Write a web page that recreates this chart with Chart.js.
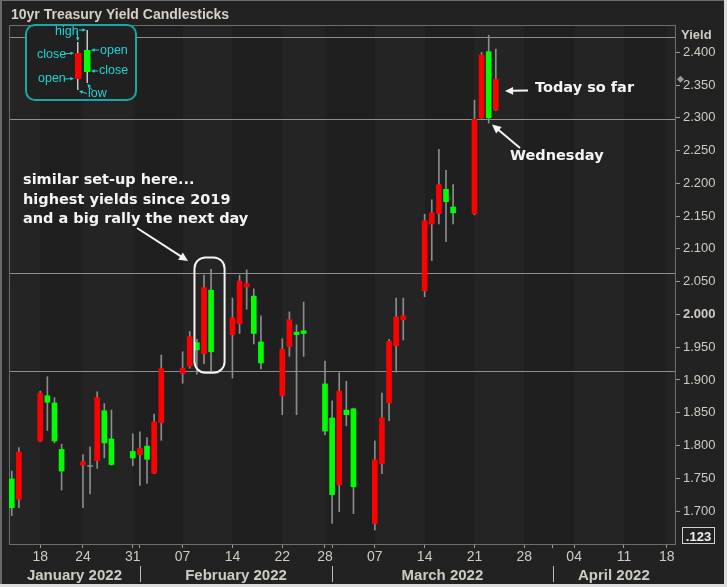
<!DOCTYPE html>
<html>
<head>
<meta charset="utf-8">
<script src="https://cdn.jsdelivr.net/npm/chart.js@4.4.0/dist/chart.umd.min.js"></script>
<style>
html, body { margin: 0; padding: 0; background: #dcdcdc; }
canvas { display: block; }
</style>
</head>
<body>
<canvas id="chart" width="727" height="587"></canvas>
<script>
// trading days and daily OHLC of the 10yr yield
const days = ['2022-01-13', '2022-01-14', '2022-01-18', '2022-01-19', '2022-01-20', '2022-01-21',
    '2022-01-24', '2022-01-25', '2022-01-26', '2022-01-27', '2022-01-28', '2022-01-31',
    '2022-02-01', '2022-02-02', '2022-02-03', '2022-02-04', '2022-02-07', '2022-02-08',
    '2022-02-09', '2022-02-10', '2022-02-11', '2022-02-14', '2022-02-15', '2022-02-16',
    '2022-02-17', '2022-02-18', '2022-02-22', '2022-02-23', '2022-02-24', '2022-02-25',
    '2022-02-28', '2022-03-01', '2022-03-02', '2022-03-03', '2022-03-04', '2022-03-07',
    '2022-03-08', '2022-03-09', '2022-03-10', '2022-03-11', '2022-03-14', '2022-03-15',
    '2022-03-16', '2022-03-17', '2022-03-18', '2022-03-21', '2022-03-22', '2022-03-23',
    '2022-03-24'];
const opens = [1.749, 1.718, 1.807, 1.876, 1.865, 1.794, 1.770, 1.768, 1.777, 1.853, 1.810, 1.791,
    1.786, 1.799, 1.758, 1.835, 1.910, 1.921, 1.957, 1.940, 2.037, 1.969, 1.986, 2.042,
    2.028, 1.958, 1.876, 1.951, 1.973, 1.975, 1.894, 1.842, 1.740, 1.854, 1.856, 1.681,
    1.772, 1.865, 1.952, 1.992, 2.036, 2.138, 2.154, 2.191, 2.164, 2.154, 2.300, 2.401,
    2.312];
const highs = [1.761, 1.797, 1.883, 1.905, 1.873, 1.802, 1.786, 1.798, 1.882, 1.864, 1.854, 1.818,
    1.821, 1.812, 1.848, 1.938, 1.943, 1.974, 1.962, 2.060, 2.069, 2.025, 2.060, 2.068,
    2.039, 1.998, 1.963, 2.004, 1.984, 2.019, 1.929, 1.868, 1.911, 1.898, 1.857, 1.807,
    1.880, 1.962, 2.025, 2.025, 2.153, 2.175, 2.252, 2.220, 2.198, 2.327, 2.400, 2.426,
    2.405];
const lows = [1.693, 1.705, 1.806, 1.823, 1.804, 1.732, 1.705, 1.726, 1.765, 1.781, 1.770, 1.769,
    1.739, 1.742, 1.757, 1.808, 1.895, 1.918, 1.909, 1.925, 1.913, 1.903, 1.971, 2.008,
    1.955, 1.917, 1.847, 1.936, 1.847, 1.936, 1.816, 1.681, 1.699, 1.830, 1.696, 1.671,
    1.757, 1.838, 1.912, 1.961, 2.027, 2.082, 2.138, 2.111, 2.138, 2.152, 2.299, 2.292,
    2.311];
const closes = [1.705, 1.790, 1.880, 1.866, 1.807, 1.761, 1.775, 1.768, 1.873, 1.804, 1.771, 1.781,
    1.796, 1.779, 1.836, 1.917, 1.918, 1.966, 1.946, 2.041, 1.943, 1.995, 2.051, 2.047,
    1.971, 1.926, 1.947, 1.992, 1.969, 1.971, 1.822, 1.725, 1.883, 1.847, 1.737, 1.778,
    1.842, 1.959, 1.996, 1.998, 2.143, 2.155, 2.198, 2.172, 2.155, 2.298, 2.396, 2.300,
    2.359];

// axis ticks
const yTicks = [1.70, 1.75, 1.80, 1.85, 1.90, 1.95, 2.00, 2.05, 2.10, 2.15, 2.20, 2.25, 2.30, 2.35, 2.40];
const xTickDates = ['2022-01-18', '2022-01-24', '2022-01-31', '2022-02-07', '2022-02-14', '2022-02-22',
    '2022-02-28', '2022-03-07', '2022-03-14', '2022-03-21', '2022-03-28', '2022-04-04',
    '2022-04-11', '2022-04-18'];
const xTickLabels = ['18', '24', '31', '07', '14', '22', '28', '07', '14', '21', '28', '04', '11', '18'];
const monthStarts = ['2022-01-01', '2022-02-01', '2022-03-01', '2022-04-01', '2022-05-01'];
const monthLabels = ['January 2022', 'February 2022', 'March 2022', 'April 2022'];
const holidays = ['2022-01-17', '2022-02-21', '2022-04-15'];

// horizontal reference lines
const levels = [2.423, 2.299, 2.063, 1.913];

const SANS = '"Liberation Sans", Arial, sans-serif';
const BOLD_NOTE = 'bold 14.5px "DejaVu Sans", sans-serif';
const AXIS_TEXT = '#d0cbc2';

// calendar days since Jan 13, holidays squeezed out
const startDay = Date.parse('2022-01-13');
function dayIndex(s) {
    const t = Date.parse(s);
    let n = Math.round((t - startDay) / 86400000);
    holidays.forEach((h) => { if (Date.parse(h) < t) n--; });
    return n;
}

const xIdx = days.map(dayIndex);
const bodyColors = closes.map((c, i) => c > opens[i] ? '#ff0000' : (c < opens[i] ? '#00ff00' : '#8c8c8c'));

function arrow(ctx, x1, y1, x2, y2, head, color, width) {
    const ang = Math.atan2(y2 - y1, x2 - x1);
    ctx.strokeStyle = color;
    ctx.fillStyle = color;
    ctx.lineWidth = width;
    ctx.beginPath();
    ctx.moveTo(x1, y1);
    ctx.lineTo(x2 - Math.cos(ang) * head * 0.7, y2 - Math.sin(ang) * head * 0.7);
    ctx.stroke();
    ctx.beginPath();
    ctx.moveTo(x2, y2);
    ctx.lineTo(x2 - head * Math.cos(ang - 0.45), y2 - head * Math.sin(ang - 0.45));
    ctx.lineTo(x2 - head * Math.cos(ang + 0.45), y2 - head * Math.sin(ang + 0.45));
    ctx.closePath();
    ctx.fill();
}

const decor = {
    id: 'decor',
    beforeDraw(chart) {
        const { ctx, chartArea: a, scales: { x } } = chart;
        ctx.save();
        ctx.fillStyle = '#222222';
        ctx.fillRect(0, 0, 724, 584);
        ctx.fillStyle = '#6a6a6a';
        ctx.fillRect(0, 0, 2, 584);
        ctx.fillRect(0, 0, 724, 1);

        // weekly shading
        const edges = [x.min].concat(xTickDates.map(dayIndex), [x.max]);
        for (let i = 0; i < edges.length - 1; i++) {
            const x1 = Math.round(x.getPixelForValue(edges[i]));
            const x2 = Math.round(x.getPixelForValue(edges[i + 1]));
            ctx.fillStyle = i % 2 === 0 ? '#242424' : '#1f1f1f';
            ctx.fillRect(x1, a.top, x2 - x1, a.bottom - a.top);
        }

        ctx.fillStyle = '#d6d0c6';
        ctx.font = 'bold 14px ' + SANS;
        ctx.textBaseline = 'alphabetic';
        ctx.fillText('10yr Treasury Yield Candlesticks', 11, 19);
        ctx.restore();
    },
    beforeDatasetsDraw(chart) {
        const { ctx, chartArea: a, scales: { y } } = chart;
        ctx.save();
        ctx.strokeStyle = '#8e8e8e';
        ctx.lineWidth = 1;
        levels.forEach((v) => {
            const py = Math.round(y.getPixelForValue(v)) + 0.5;
            ctx.beginPath();
            ctx.moveTo(a.left, py);
            ctx.lineTo(a.right, py);
            ctx.stroke();
        });
        ctx.strokeStyle = '#6e6e6e';
        ctx.beginPath();
        ctx.moveTo(a.left + 0.5, a.bottom);
        ctx.lineTo(a.left + 0.5, a.top + 0.5);
        ctx.lineTo(a.right, a.top + 0.5);
        ctx.stroke();
        ctx.restore();
    },
    afterDraw(chart) {
        const { ctx, chartArea: a, scales: { x, y } } = chart;
        ctx.save();

        // month row
        ctx.font = 'bold 15px ' + SANS;
        ctx.fillStyle = AXIS_TEXT;
        ctx.textAlign = 'center';
        ctx.textBaseline = 'alphabetic';
        ctx.strokeStyle = '#bdbdbd';
        ctx.lineWidth = 1;
        for (let i = 0; i < monthLabels.length; i++) {
            const p1 = x.getPixelForValue(dayIndex(monthStarts[i]));
            const p2 = x.getPixelForValue(dayIndex(monthStarts[i + 1]));
            const s = Math.max(a.left, p1), e = Math.min(a.right, p2);
            ctx.fillText(monthLabels[i], (s + e) / 2, 579.5);
            if (p1 > a.left && p1 < a.right) {
                const px = Math.round(p1) + 0.5;
                ctx.beginPath();
                ctx.moveTo(px, 566);
                ctx.lineTo(px, 582);
                ctx.stroke();
            }
        }

        // axis caption, last value marker, precision box
        ctx.textAlign = 'left';
        ctx.font = 'bold 13px ' + SANS;
        ctx.fillText('Yield', 681, 39);
        const ly = y.getPixelForValue(closes[closes.length - 1]);
        ctx.fillStyle = '#9a9a9a';
        ctx.beginPath();
        ctx.moveTo(680.5, ly - 3.5);
        ctx.lineTo(684, ly);
        ctx.lineTo(680.5, ly + 3.5);
        ctx.lineTo(677, ly);
        ctx.closePath();
        ctx.fill();
        ctx.strokeStyle = '#cfcfcf';
        ctx.strokeRect(682.5, 527.5, 32, 16);
        ctx.fillStyle = '#eeeeee';
        ctx.font = 'bold 13px ' + SANS;
        ctx.textAlign = 'center';
        ctx.fillText('.123', 698.5, 540.5);

        // candle legend
        ctx.textAlign = 'left';
        ctx.fillStyle = '#202020';
        ctx.strokeStyle = '#19a7a7';
        ctx.lineWidth = 2;
        ctx.beginPath();
        ctx.roundRect(26, 25, 110, 75, 9);
        ctx.fill();
        ctx.stroke();
        ctx.fillStyle = '#c8c8c8';
        ctx.fillRect(77, 42, 1.5, 48);
        ctx.fillRect(86.5, 30, 1.5, 53);
        ctx.fillStyle = '#ff0000';
        ctx.fillRect(75, 53, 6.5, 26);
        ctx.fillStyle = '#00ff00';
        ctx.fillRect(84, 50, 6.5, 22);
        const cy = '#22d3d3';
        ctx.fillStyle = cy;
        ctx.font = '12.5px ' + SANS;
        ctx.fillText('high', 55, 35);
        ctx.fillText('close', 37, 58);
        ctx.fillText('open', 38, 82);
        ctx.fillText('open', 100, 54);
        ctx.fillText('close', 99, 74);
        ctx.fillText('low', 88, 97);
        arrow(ctx, 77, 31, 78, 41, 4, cy, 1);
        arrow(ctx, 79, 30, 86, 30, 4, cy, 1);
        arrow(ctx, 64, 54, 74, 53, 4, cy, 1);
        arrow(ctx, 64, 79, 74, 78.5, 4, cy, 1);
        arrow(ctx, 99, 50, 91, 50, 4, cy, 1);
        arrow(ctx, 98, 71, 91, 71, 4, cy, 1);
        arrow(ctx, 92, 90, 87.5, 84, 4, cy, 1);
        arrow(ctx, 87, 93.5, 79, 91, 4, cy, 1);

        // notes
        const white = '#f4f4f4';
        ctx.fillStyle = white;
        ctx.font = BOLD_NOTE;
        ctx.fillText('similar set-up here...', 23, 184);
        ctx.fillText('highest yields since 2019', 23, 203.5);
        ctx.fillText('and a big rally the next day', 23, 223);
        arrow(ctx, 137, 228, 188, 261, 10, white, 2);

        const bx1 = x.getPixelForValue(dayIndex('2022-02-10')) - 9.5;
        const bx2 = x.getPixelForValue(dayIndex('2022-02-11')) + 13.5;
        const by1 = y.getPixelForValue(2.087);
        const by2 = y.getPixelForValue(1.911);
        ctx.strokeStyle = white;
        ctx.lineWidth = 2;
        ctx.beginPath();
        ctx.roundRect(bx1, by1, bx2 - bx1, by2 - by1, 11);
        ctx.stroke();

        ctx.fillStyle = white;
        ctx.fillText('Today so far', 535, 91.5);
        arrow(ctx, 528, 90.5, 505, 91, 9, white, 2);
        ctx.fillStyle = white;
        ctx.fillText('Wednesday', 510, 160);
        arrow(ctx, 520, 148, 492, 124.5, 10, white, 2);
        ctx.restore();
    }
};

new Chart(document.getElementById('chart'), {
    type: 'bar',
    data: {
        datasets: [{
            label: 'body',
            data: xIdx.map((v, i) => ({ x: v, y: [opens[i], closes[i]] })),
            backgroundColor: bodyColors,
            barThickness: 5,
            minBarLength: 1,
            grouped: false,
        }, {
            label: 'wick',
            data: xIdx.map((v, i) => ({ x: v, y: [lows[i], highs[i]] })),
            backgroundColor: '#8c8c8c',
            barThickness: 1,
            grouped: false,
        }]
    },
    options: {
        responsive: false,
        animation: false,
        layout: { padding: { left: 9, top: 25, right: 0, bottom: 0 } },
        plugins: {
            legend: { display: false },
            tooltip: { enabled: false },
        },
        scales: {
            x: {
                type: 'linear',
                min: -0.39,
                max: 93.17,
                offset: false,
                afterBuildTicks: (s) => {
                    const all = xTickDates.concat(monthStarts.slice(1, 4)).map(dayIndex);
                    all.sort((p, q) => p - q);
                    s.ticks = all.map((v) => ({ value: v }));
                },
                afterFit: (s) => { s.height = 43; },
                ticks: {
                    autoSkip: false,
                    maxRotation: 0,
                    padding: 1,
                    color: AXIS_TEXT,
                    font: { family: SANS, size: 14 },
                    callback: (v) => {
                        const k = xTickDates.findIndex((d) => dayIndex(d) === v);
                        return k >= 0 ? xTickLabels[k] : '';
                    }
                },
                grid: { drawOnChartArea: false, offset: false, tickLength: 4, color: '#9a9a9a' },
                border: { color: '#6e6e6e' },
            },
            y: {
                position: 'right',
                min: 1.6497,
                max: 2.4417,
                afterBuildTicks: (s) => { s.ticks = yTicks.map((v) => ({ value: v })); },
                afterFit: (s) => { s.width = 52; },
                ticks: {
                    padding: 3,
                    color: AXIS_TEXT,
                    font: (c) => ({
                        family: SANS,
                        size: 13,
                        weight: c.tick && Math.abs(c.tick.value - 2) < 1e-9 ? 'bold' : 'normal'
                    }),
                    callback: (v) => v.toFixed(3)
                },
                grid: { drawOnChartArea: false, tickLength: 5, color: '#9a9a9a' },
                border: { color: '#6e6e6e' },
            }
        }
    },
    plugins: [decor]
});
</script>
</body>
</html>
